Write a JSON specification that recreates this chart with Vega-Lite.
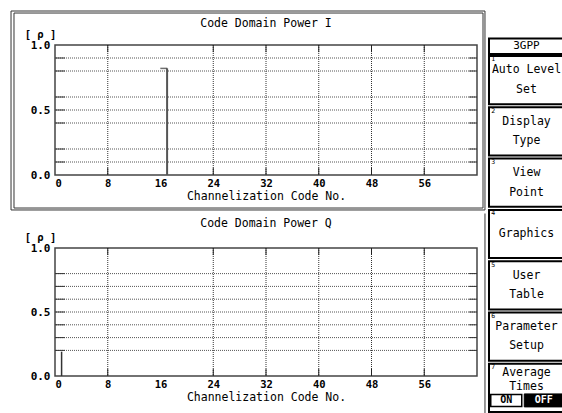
{
  "$schema": "https://vega.github.io/schema/vega-lite/v6.json",
  "padding": {"left": 9, "top": 9, "right": 0, "bottom": 0},
  "background": "#ffffff",
  "config": {
    "font": "DejaVu Sans Mono",
    "view": {"stroke": null},
    "axis": {"domain": false, "ticks": false, "grid": false, "labelColor": "#000", "titleColor": "#000"},
    "axisX": {"labelFontSize": 10.5, "labelFontWeight": "bold", "labelPadding": 3, "titleFontSize": 11.5, "titleFontWeight": "normal", "titlePadding": 2},
    "axisY": {"labelFontSize": 11, "labelFontWeight": "bold", "labelPadding": 5, "titleAngle": 0, "titleFontSize": 10.5, "titleFontWeight": "bold", "titleX": -15, "titleY": -11, "titleAlign": "center", "titleBaseline": "middle"},
    "text": {"color": "#000"}
  },
  "datasets": {
    "spikesI": [{"code": 16, "power": 0.82}],
    "spikesQ": [{"code": 0, "power": 0.19}],
    "levelsI": [{"level": 0.1}, {"level": 0.2}, {"level": 0.4}, {"level": 0.5}, {"level": 0.6}, {"level": 0.8}, {"level": 0.9}],
    "levelsQ": [{"level": 0.2}, {"level": 0.3}, {"level": 0.4}, {"level": 0.5}, {"level": 0.6}, {"level": 0.7}, {"level": 0.8}],
    "codeLines": [{"code": 8}, {"code": 24}, {"code": 32}, {"code": 40}, {"code": 48}, {"code": 56}],
    "softkeys": [
      {"key": 1, "label": "Auto Level\nSet"},
      {"key": 2, "label": "Display\nType"},
      {"key": 3, "label": "View\nPoint"},
      {"key": 4, "label": "Graphics"},
      {"key": 5, "label": "User\nTable"},
      {"key": 6, "label": "Parameter\nSetup"},
      {"key": 7, "label": "Average\nTimes"}
    ]
  },
  "spacing": 0,
  "hconcat": [
    {
      "spacing": 0,
      "vconcat": [
        {
          "width": 422,
          "height": 130,
          "view": {"stroke": "#444", "strokeWidth": 1.5},
          "resolve": {"scale": {"x": "independent"}},
          "layer": [
            {
              "layer": [
                {
                  "data": {"values": [{}]},
                  "mark": {"type": "rect", "filled": false, "color": "#333", "strokeWidth": 1, "clip": false},
                  "encoding": {
                    "x": {"datum": -6.67, "type": "quantitative", "scale": {"domain": [0, 64], "nice": false, "zero": false}, "axis": {"values": [0, 8, 16, 24, 32, 40, 48, 56], "title": "Channelization Code No."}},
                    "x2": {"datum": 65.21},
                    "y": {"datum": 1.2615, "type": "quantitative", "scale": {"domain": [0, 1], "nice": false}, "axis": {"values": [0, 0.5, 1], "format": ".1f", "title": "[ ρ ]"}},
                    "y2": {"datum": -0.269}
                  }
                },
                {
                  "data": {"values": [{}]},
                  "mark": {"type": "rect", "filled": false, "color": "#333", "strokeWidth": 1, "clip": false},
                  "encoding": {
                    "x": {"datum": -6.22, "type": "quantitative", "scale": {"domain": [0, 64], "nice": false, "zero": false}},
                    "x2": {"datum": 64.91},
                    "y": {"datum": 1.246, "type": "quantitative"},
                    "y2": {"datum": -0.254}
                  }
                },
                {
                  "data": {"values": [{"name": "Code Domain Power I"}]},
                  "mark": {"type": "text", "fontSize": 11.5, "baseline": "middle"},
                  "encoding": {
                    "text": {"field": "name", "type": "nominal"},
                    "x": {"datum": 32, "type": "quantitative", "scale": {"domain": [0, 64], "nice": false, "zero": false}},
                    "y": {"datum": 1.165, "type": "quantitative"}
                  }
                },
                {
                  "data": {"name": "levelsI"},
                  "mark": {"type": "rule", "color": "#555", "strokeWidth": 1, "strokeDash": [1, 1]},
                  "encoding": {"y": {"field": "level", "type": "quantitative", "title": "[ ρ ]"}}
                },
                {
                  "data": {"name": "levelsI"},
                  "mark": {"type": "rule", "color": "#333", "strokeWidth": 1},
                  "encoding": {
                    "x": {"datum": 0, "type": "quantitative", "scale": {"domain": [0, 64], "nice": false, "zero": false}},
                    "x2": {"datum": 1.5},
                    "y": {"field": "level", "type": "quantitative", "title": "[ ρ ]"}
                  }
                },
                {
                  "data": {"name": "levelsI"},
                  "mark": {"type": "rule", "color": "#333", "strokeWidth": 1},
                  "encoding": {
                    "x": {"datum": 62.8, "type": "quantitative", "scale": {"domain": [0, 64], "nice": false, "zero": false}},
                    "x2": {"datum": 64},
                    "y": {"field": "level", "type": "quantitative", "title": "[ ρ ]"}
                  }
                },
                {
                  "data": {"name": "codeLines"},
                  "mark": {"type": "rule", "color": "#333", "strokeWidth": 1, "strokeDash": [1, 1]},
                  "encoding": {"x": {"field": "code", "type": "quantitative", "scale": {"domain": [0, 64], "nice": false, "zero": false}, "title": "Channelization Code No."}}
                },
                {
                  "data": {"name": "codeLines"},
                  "mark": {"type": "rule", "color": "#222", "strokeWidth": 1},
                  "encoding": {
                    "x": {"field": "code", "type": "quantitative", "scale": {"domain": [0, 64], "nice": false, "zero": false}, "title": "Channelization Code No."},
                    "y": {"datum": 0.945, "type": "quantitative"},
                    "y2": {"datum": 1}
                  }
                },
                {
                  "data": {"name": "codeLines"},
                  "mark": {"type": "rule", "color": "#222", "strokeWidth": 1},
                  "encoding": {
                    "x": {"field": "code", "type": "quantitative", "scale": {"domain": [0, 64], "nice": false, "zero": false}, "title": "Channelization Code No."},
                    "y": {"datum": 0, "type": "quantitative"},
                    "y2": {"datum": 0.055}
                  }
                }
              ]
            },
            {
              "data": {"name": "spikesI"},
              "layer": [
                {
                  "mark": {"type": "rule", "color": "#555", "strokeWidth": 2},
                  "encoding": {
                    "x": {"field": "code", "type": "ordinal", "bandPosition": 1, "scale": {"type": "band", "domain": [0,1,2,3,4,5,6,7,8,9,10,11,12,13,14,15,16,17,18,19,20,21,22,23,24,25,26,27,28,29,30,31,32,33,34,35,36,37,38,39,40,41,42,43,44,45,46,47,48,49,50,51,52,53,54,55,56,57,58,59,60,61,62,63], "paddingInner": 0, "paddingOuter": 0}, "axis": null},
                    "y": {"field": "power", "type": "quantitative", "title": "[ ρ ]"},
                    "y2": {"datum": 0}
                  }
                },
                {
                  "mark": {"type": "tick", "orient": "horizontal", "color": "#333", "thickness": 1.5, "size": 7},
                  "encoding": {
                    "x": {"field": "code", "type": "ordinal", "axis": null},
                    "y": {"field": "power", "type": "quantitative", "title": "[ ρ ]"}
                  }
                }
              ]
            }
          ]
        },
        {
          "width": 422,
          "height": 128,
          "view": {"stroke": "#444", "strokeWidth": 1.5},
          "resolve": {"scale": {"x": "independent"}},
          "layer": [
            {
              "layer": [
                {
                  "data": {"values": [{}]},
                  "mark": {"type": "rect", "fill": "#ffffff", "fillOpacity": 0, "strokeOpacity": 0, "clip": false},
                  "encoding": {
                    "x": {"datum": -6.67, "type": "quantitative", "scale": {"domain": [0, 64], "nice": false, "zero": false}, "axis": {"values": [0, 8, 16, 24, 32, 40, 48, 56], "title": "Channelization Code No."}},
                    "x2": {"datum": 65.21},
                    "y": {"datum": 1.2695, "type": "quantitative", "scale": {"domain": [0, 1], "nice": false}, "axis": {"values": [0, 0.5, 1], "format": ".1f", "title": "[ ρ ]"}},
                    "y2": {"datum": 0}
                  }
                },
                {
                  "data": {"values": [{}]},
                  "mark": {"type": "rule", "color": "#333", "strokeWidth": 1, "clip": false},
                  "encoding": {
                    "x": {"datum": 65.21, "type": "quantitative", "scale": {"domain": [0, 64], "nice": false, "zero": false}},
                    "y": {"datum": 1.2695, "type": "quantitative"},
                    "y2": {"datum": -0.32}
                  }
                },
                {
                  "data": {"values": [{"name": "Code Domain Power Q"}]},
                  "mark": {"type": "text", "fontSize": 11.5, "baseline": "middle"},
                  "encoding": {
                    "text": {"field": "name", "type": "nominal"},
                    "x": {"datum": 32, "type": "quantitative", "scale": {"domain": [0, 64], "nice": false, "zero": false}},
                    "y": {"datum": 1.184, "type": "quantitative"}
                  }
                },
                {
                  "data": {"name": "levelsQ"},
                  "mark": {"type": "rule", "color": "#555", "strokeWidth": 1, "strokeDash": [1, 1]},
                  "encoding": {"y": {"field": "level", "type": "quantitative", "title": "[ ρ ]"}}
                },
                {
                  "data": {"name": "levelsQ"},
                  "mark": {"type": "rule", "color": "#333", "strokeWidth": 1},
                  "encoding": {
                    "x": {"datum": 0, "type": "quantitative", "scale": {"domain": [0, 64], "nice": false, "zero": false}},
                    "x2": {"datum": 1.5},
                    "y": {"field": "level", "type": "quantitative", "title": "[ ρ ]"}
                  }
                },
                {
                  "data": {"name": "levelsQ"},
                  "mark": {"type": "rule", "color": "#333", "strokeWidth": 1},
                  "encoding": {
                    "x": {"datum": 62.8, "type": "quantitative", "scale": {"domain": [0, 64], "nice": false, "zero": false}},
                    "x2": {"datum": 64},
                    "y": {"field": "level", "type": "quantitative", "title": "[ ρ ]"}
                  }
                },
                {
                  "data": {"name": "codeLines"},
                  "mark": {"type": "rule", "color": "#333", "strokeWidth": 1, "strokeDash": [1, 1]},
                  "encoding": {"x": {"field": "code", "type": "quantitative", "scale": {"domain": [0, 64], "nice": false, "zero": false}, "title": "Channelization Code No."}}
                },
                {
                  "data": {"name": "codeLines"},
                  "mark": {"type": "rule", "color": "#222", "strokeWidth": 1},
                  "encoding": {
                    "x": {"field": "code", "type": "quantitative", "scale": {"domain": [0, 64], "nice": false, "zero": false}, "title": "Channelization Code No."},
                    "y": {"datum": 0.945, "type": "quantitative"},
                    "y2": {"datum": 1}
                  }
                },
                {
                  "data": {"name": "codeLines"},
                  "mark": {"type": "rule", "color": "#222", "strokeWidth": 1},
                  "encoding": {
                    "x": {"field": "code", "type": "quantitative", "scale": {"domain": [0, 64], "nice": false, "zero": false}, "title": "Channelization Code No."},
                    "y": {"datum": 0, "type": "quantitative"},
                    "y2": {"datum": 0.055}
                  }
                }
              ]
            },
            {
              "data": {"name": "spikesQ"},
              "mark": {"type": "rule", "color": "#333", "strokeWidth": 1.5},
              "encoding": {
                "x": {"field": "code", "type": "ordinal", "bandPosition": 1, "scale": {"type": "band", "domain": [0,1,2,3,4,5,6,7,8,9,10,11,12,13,14,15,16,17,18,19,20,21,22,23,24,25,26,27,28,29,30,31,32,33,34,35,36,37,38,39,40,41,42,43,44,45,46,47,48,49,50,51,52,53,54,55,56,57,58,59,60,61,62,63], "paddingInner": 0, "paddingOuter": 0}, "axis": null},
                "y": {"field": "power", "type": "quantitative", "title": "[ ρ ]"},
                "y2": {"datum": 0}
              }
            }
          ]
        }
      ]
    },
    {
      "spacing": 0,
      "vconcat": [
        {
          "width": 75,
          "height": 9,
          "data": {"values": [{"menu": "3GPP"}]},
          "layer": [
            {
              "mark": {"type": "rect", "fill": "#ffffff", "stroke": "#000", "strokeWidth": 2, "clip": false},
              "encoding": {
                "x": {"datum": 0, "type": "quantitative", "scale": {"domain": [0, 1], "nice": false}, "axis": null},
                "x2": {"datum": 1},
                "y": {"datum": 0, "type": "quantitative", "scale": {"domain": [0, 1], "nice": false}, "axis": null},
                "y2": {"datum": 1.72}
              }
            },
            {
              "mark": {"type": "text", "fontSize": 11, "baseline": "middle"},
              "encoding": {
                "text": {"field": "menu", "type": "nominal"},
                "x": {"datum": 0.5, "type": "quantitative"},
                "y": {"datum": 0.89, "type": "quantitative"}
              }
            }
          ]
        },
        {
          "width": 75,
          "height": 358,
          "data": {"name": "softkeys"},
          "layer": [
            {
              "mark": {"type": "rect", "fill": "#ffffff", "stroke": "#000", "strokeWidth": 2},
              "encoding": {
                "x": {"datum": 0, "type": "quantitative", "scale": {"domain": [0, 1], "nice": false}, "axis": null},
                "x2": {"datum": 1},
                "y": {"field": "key", "type": "ordinal", "scale": {"paddingInner": 0.06, "paddingOuter": 0.02}, "axis": null}
              }
            },
            {
              "mark": {"type": "text", "fontSize": 6.5, "align": "left", "baseline": "middle"},
              "encoding": {
                "text": {"field": "key", "type": "nominal"},
                "x": {"datum": 0.03, "type": "quantitative"},
                "y": {"field": "key", "type": "ordinal", "bandPosition": 0.07}
              }
            },
            {
              "transform": [{"filter": "datum.key < 7 && datum.key !== 4"}],
              "mark": {"type": "text", "fontSize": 11.5, "lineBreak": "\n", "lineHeight": 19.5, "baseline": "middle"},
              "encoding": {
                "text": {"field": "label", "type": "nominal"},
                "x": {"datum": 0.5, "type": "quantitative"},
                "y": {"field": "key", "type": "ordinal", "bandPosition": 0.3}
              }
            },
            {
              "transform": [{"filter": "datum.key === 4"}],
              "mark": {"type": "text", "fontSize": 11.5, "baseline": "middle"},
              "encoding": {
                "text": {"field": "label", "type": "nominal"},
                "x": {"datum": 0.5, "type": "quantitative"},
                "y": {"field": "key", "type": "ordinal", "bandPosition": 0.5}
              }
            },
            {
              "transform": [{"filter": "datum.key === 7"}],
              "layer": [
                {
                  "mark": {"type": "text", "fontSize": 11.5, "lineBreak": "\n", "lineHeight": 14, "baseline": "middle"},
                  "encoding": {
                    "text": {"field": "label", "type": "nominal"},
                    "x": {"datum": 0.5, "type": "quantitative"},
                    "y": {"field": "key", "type": "ordinal", "bandPosition": 0.2}
                  }
                },
                {
                  "mark": {"type": "point", "shape": "M-1,-0.387L1,-0.387L1,0.387L-1,0.387Z", "size": 961, "filled": true, "fill": "#ffffff", "stroke": "#000", "strokeWidth": 1.5, "opacity": 1},
                  "encoding": {
                    "x": {"datum": 0.23, "type": "quantitative"},
                    "y": {"field": "key", "type": "ordinal", "bandPosition": 0.76}
                  }
                },
                {
                  "mark": {"type": "point", "shape": "M-1,-0.333L1,-0.333L1,0.333L-1,0.333Z", "size": 1521, "filled": true, "fill": "#000", "stroke": "#000", "strokeWidth": 1, "opacity": 1},
                  "encoding": {
                    "x": {"datum": 0.73, "type": "quantitative"},
                    "y": {"field": "key", "type": "ordinal", "bandPosition": 0.76}
                  }
                },
                {
                  "mark": {"type": "text", "fontSize": 10, "fontWeight": "bold", "baseline": "middle", "color": "#000"},
                  "encoding": {
                    "text": {"value": "ON"},
                    "x": {"datum": 0.23, "type": "quantitative"},
                    "y": {"field": "key", "type": "ordinal", "bandPosition": 0.76}
                  }
                },
                {
                  "mark": {"type": "text", "fontSize": 10, "fontWeight": "bold", "baseline": "middle", "color": "#ffffff"},
                  "encoding": {
                    "text": {"value": "OFF"},
                    "x": {"datum": 0.73, "type": "quantitative"},
                    "y": {"field": "key", "type": "ordinal", "bandPosition": 0.76}
                  }
                }
              ]
            }
          ]
        }
      ]
    }
  ]
}
